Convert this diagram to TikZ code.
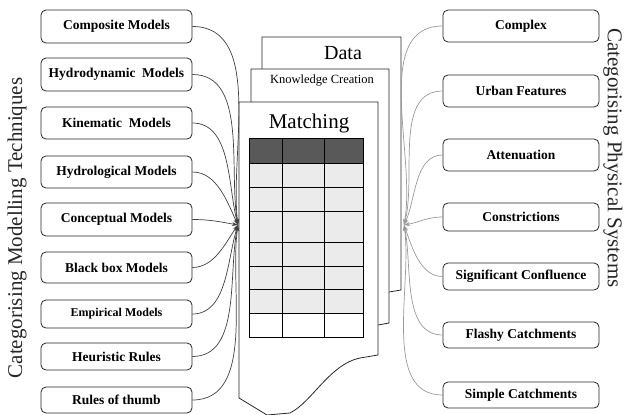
\documentclass[tikz,border=0pt]{standalone}
\usepackage{fontspec}
\setmainfont{Liberation Serif}
\usetikzlibrary{arrows.meta}
\begin{document}
\begin{tikzpicture}[x=1pt,y=-1pt,
  catbox/.style={draw=black!85, line width=0.8pt, rounded corners=5pt, fill=white, inner sep=0pt,
    font=\fontsize{13.5}{15}\selectfont\bfseries},
  lbox/.style={catbox, minimum width=151pt},
  rbox/.style={catbox, minimum width=156pt},
  lconn/.style={draw=black!75, line width=0.7pt, -{Stealth[length=6pt,width=4pt]}},
  rconn/.style={draw=black!40, line width=0.7pt, {Stealth[length=6pt,width=4pt]}-},
  page/.style={draw=black!85, line width=0.8pt, fill=white},
  sidelabel/.style={font=\fontsize{21}{24}\selectfont, text=black!85}
]
\useasboundingbox (0,0) rectangle (627,415);

% side labels
\node[sidelabel, rotate=90] (ltitle) at (17,228) {Categorising Modelling Techniques};
\node[sidelabel, rotate=-90] (rtitle) at (613,158) {Categorising Physical Systems};

% pages (back to front)
\draw[page] (262,37) -- (401,37) -- (401,290) -- (389,292) -- (300,300) -- (262,300) -- cycle;
\node[font=\fontsize{20}{22}\selectfont] (data) at (343,53) {Data};
\draw[page] (251,69) -- (389,69) -- (389,323) -- (378,325) -- (300,330) -- (251,330) -- cycle;
\node[font=\fontsize{12.5}{14}\selectfont] (know) at (322,81) {Knowledge Creation};
\draw[page] (239,102) -- (378,102) -- (378,355) -- (360,358)
  .. controls (330,364) and (312,402) .. (290,413) -- (267,415) -- (239,398) -- cycle;
\node[font=\fontsize{21}{24}\selectfont] (match) at (309,123) {Matching};

% table
\fill[black!65] (249,138) rectangle (363,163);
\fill[black!8] (249,163) rectangle (363,313);
\draw[line width=1pt] (249,138) rectangle (363,337);
\foreach \yy in {163,187,211,242,266,289,313} \draw[line width=1pt] (249,\yy) -- (363,\yy);
\foreach \xx in {282,324} \draw[line width=1pt] (\xx,138) -- (\xx,337);

% left boxes
\node[lbox, minimum height=33pt] (m1) at (116.5,26.5) {Composite Models};
\node[lbox, minimum height=33pt] (m2) at (116.5,74.5) {Hydrodynamic\ \ Models};
\node[lbox, minimum height=32pt] (m3) at (116.5,123) {Kinematic\ \ Models};
\node[lbox, minimum height=32pt] (m4) at (116.5,172) {Hydrological Models};
\node[lbox, minimum height=33pt] (m5) at (116.5,219.5) {Conceptual Models};
\node[lbox, minimum height=31pt] (m6) at (116.5,267.5) {Black box Models};
\node[lbox, minimum height=28pt, font=\fontsize{12}{14}\selectfont\bfseries] (m7) at (116.5,314) {Empirical Models};
\node[lbox, minimum height=27pt] (m8) at (116.5,356.5) {Heuristic Rules};
\node[lbox, minimum height=26pt] (m9) at (116.5,400) {Rules of thumb};

% right boxes
\node[rbox, minimum height=32pt] (p1) at (521,26) {Complex};
\node[rbox, minimum height=32pt] (p2) at (521,91) {Urban Features};
\node[rbox, minimum height=32pt] (p3) at (521,155) {Attenuation};
\node[rbox, minimum height=28pt] (p4) at (521,217) {Constrictions};
\node[rbox, minimum height=27pt] (p5) at (521,276.5) {Significant Confluence};
\node[rbox, minimum height=26pt] (p6) at (521,335) {Flashy Catchments};
\node[rbox, minimum height=26pt] (p7) at (521,395) {Simple Catchments};

% convergence points
\coordinate (L) at (238,225);
\coordinate (R) at (404,225);

% left connectors
\draw[lconn] (m1.east) to[out=0,in=97,looseness=0.9] (L);
\draw[lconn] (m2.east) to[out=0,in=100,looseness=0.9] (L);
\draw[lconn] (m3.east) to[out=0,in=105,looseness=0.9] (L);
\draw[lconn] (m4.east) to[out=0,in=115,looseness=0.9] (L);
\draw[lconn] (m5.east) to[out=0,in=170] (L);
\draw[lconn] (m6.east) to[out=0,in=-125,looseness=0.9] (L);
\draw[lconn] (m7.east) to[out=0,in=-108,looseness=0.9] (L);
\draw[lconn] (m8.east) to[out=0,in=-102,looseness=0.9] (L);
\draw[lconn] (m9.east) to[out=0,in=-98,looseness=0.9] (L);

% right connectors
\draw[rconn] (R) to[out=80,in=180,looseness=0.9] (p1.west);
\draw[rconn] (R) to[out=75,in=180,looseness=0.9] (p2.west);
\draw[rconn] (R) to[out=65,in=180,looseness=0.9] (p3.west);
\draw[rconn] (R) to[out=10,in=180] (p4.west);
\draw[rconn] (R) to[out=-70,in=180,looseness=0.9] (p5.west);
\draw[rconn] (R) to[out=-78,in=180,looseness=0.9] (p6.west);
\draw[rconn] (R) to[out=-82,in=180,looseness=0.9] (p7.west);
\end{tikzpicture}
\end{document}
